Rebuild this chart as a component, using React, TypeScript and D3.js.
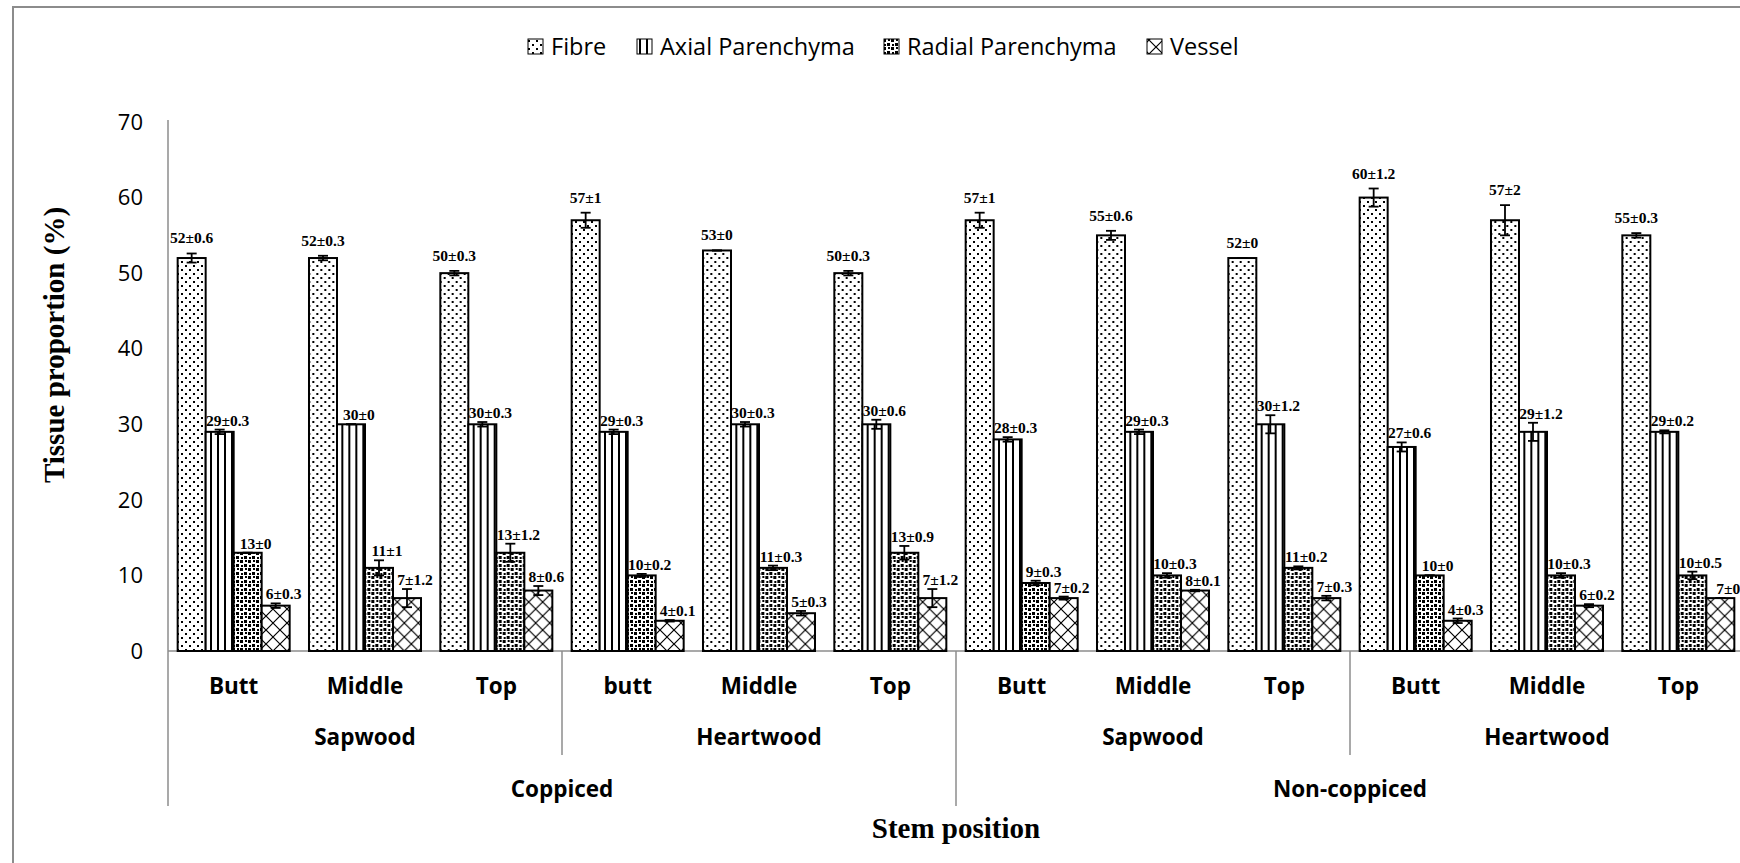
import { useMemo } from 'react'
import * as d3 from 'd3'

// tissue types (legend order)
const series = ['Fibre', 'Axial Parenchyma', 'Radial Parenchyma', 'Vessel']

// bottom axis, three levels
const stemPos = ['Butt', 'Middle', 'Top', 'butt', 'Middle', 'Top', 'Butt', 'Middle', 'Top', 'Butt', 'Middle', 'Top']
const woodTypes = ['Sapwood', 'Heartwood', 'Sapwood', 'Heartwood']
const treatments = ['Coppiced', 'Non-coppiced']

// mean ± error, per stem position
const fibre = [52, 52, 50, 57, 53, 50, 57, 55, 52, 60, 57, 55]
const fibreErr = [0.6, 0.3, 0.3, 1, 0, 0.3, 1, 0.6, 0, 1.2, 2, 0.3]
const axial = [29, 30, 30, 29, 30, 30, 28, 29, 30, 27, 29, 29]
const axialErr = [0.3, 0, 0.3, 0.3, 0.3, 0.6, 0.3, 0.3, 1.2, 0.6, 1.2, 0.2]
const radial = [13, 11, 13, 10, 11, 13, 9, 10, 11, 10, 10, 10]
const radialErr = [0, 1, 1.2, 0.2, 0.3, 0.9, 0.3, 0.3, 0.2, 0, 0.3, 0.5]
const vessel = [6, 7, 8, 4, 5, 7, 7, 8, 7, 4, 6, 7]
const vesselErr = [0.3, 1.2, 0.6, 0.1, 0.3, 1.2, 0.2, 0.1, 0.3, 0.3, 0.2, 0]

const yTicks = [0, 10, 20, 30, 40, 50, 60, 70]

const W = 1740
const H = 863
const SANS = "'Open Sans', 'Noto Sans', sans-serif"
const SERIF = "'Times New Roman', 'Liberation Serif', serif"
const GRID = '#8c8c8c'

const patternIds = ['pFibre', 'pAxial', 'pRadial', 'pVessel']
// legend text start, per item
const legendX = [551, 660, 907, 1170]

function Patterns() {
  return (
    <defs>
      <pattern id="pFibre" width={8} height={8} patternUnits="userSpaceOnUse">
        <rect width={8} height={8} fill="#fff" />
        <rect x={1} y={1} width={2} height={2} fill="#000" />
        <rect x={5} y={5} width={2} height={2} fill="#000" />
      </pattern>
      <pattern id="pAxial" width={7} height={8} patternUnits="userSpaceOnUse">
        <rect width={7} height={8} fill="#fff" />
        <rect x={0} y={0} width={2} height={8} fill="#000" />
      </pattern>
      <pattern id="pRadial" width={8} height={8} patternUnits="userSpaceOnUse">
        <rect width={8} height={8} fill="#fff" />
        <rect x={0} y={0} width={3} height={3} fill="#000" />
        <rect x={4} y={4} width={3} height={3} fill="#000" />
        <rect x={5} y={0} width={2} height={2} fill="#000" />
        <rect x={1} y={5} width={2} height={2} fill="#000" />
      </pattern>
      <pattern id="pVessel" width={14} height={14} patternUnits="userSpaceOnUse">
        <rect width={14} height={14} fill="#fff" />
        <path d="M0,0 L14,14 M14,0 L0,14" stroke="#000" strokeWidth={1.2} />
      </pattern>
    </defs>
  )
}

export default function App() {
  const values = [fibre, axial, radial, vessel]
  const errors = [fibreErr, axialErr, radialErr, vesselErr]

  const x0 = useMemo(
    () => d3.scaleBand<number>().domain(d3.range(stemPos.length)).range([168, 1744]).paddingInner(0).paddingOuter(0),
    []
  )
  const x1 = useMemo(
    () => d3.scaleBand<number>().domain(d3.range(series.length)).range([0, x0.bandwidth()]).paddingInner(0).paddingOuter(0.345),
    [x0]
  )
  const y = useMemo(() => d3.scaleLinear().domain([0, 70]).range([651, 122]), [])

  const bw = x0.bandwidth()
  const baseY = y(0)
  const woodSpan = 3
  const treatSpan = 6

  return (
    <svg width={W} height={H} style={{ position: 'absolute', left: 0, top: 0, background: '#fff' }}>
      <Patterns />
      <rect x={0} y={0} width={W} height={H} fill="#fff" />
      {/* outer chart border */}
      <path d={`M13,${H + 5} L13,7 L${W + 5},7`} fill="none" stroke={GRID} strokeWidth={2} />

      {/* legend */}
      <g fontFamily={SANS} fontSize={23.5} fill="#000">
        {series.map((s, i) => (
          <g key={s} transform={`translate(${legendX[i]},47)`}>
            <rect x={-23} y={-8} width={15} height={15} fill={`url(#${patternIds[i]})`} stroke="#000" strokeWidth={1} />
            <text x={0} dy="0.35em">{s}</text>
          </g>
        ))}
      </g>

      {/* y axis */}
      <line x1={168} x2={168} y1={120} y2={806} stroke={GRID} strokeWidth={1.5} />
      <line x1={168} x2={W} y1={baseY} y2={baseY} stroke={GRID} strokeWidth={1.5} />
      <g fontFamily={SANS} fontSize={22} fill="#000" textAnchor="end">
        {yTicks.map((t) => (
          <text key={t} x={143} y={y(t)} dy="0.35em">
            {t}
          </text>
        ))}
      </g>
      <text
        transform={`translate(64,345) rotate(-90)`}
        textAnchor="middle"
        fontFamily={SERIF}
        fontWeight="bold"
        fontSize={29}
      >
        Tissue proportion (%)
      </text>

      {/* bars */}
      {stemPos.map((_, gi) => (
        <g key={gi} transform={`translate(${x0(gi)},0)`}>
          {series.map((s, si) => {
            const v = values[si][gi]
            const e = errors[si][gi]
            const bx = x1(si) as number
            const cx = bx + x1.bandwidth() / 2
            const isFibre = si === 0
            return (
              <g key={s}>
                <rect
                  x={bx}
                  y={y(v)}
                  width={x1.bandwidth()}
                  height={baseY - y(v)}
                  fill={`url(#${patternIds[si]})`}
                  stroke="#000"
                  strokeWidth={2}
                />
                <g stroke="#000" strokeWidth={1.8}>
                  <line x1={cx} x2={cx} y1={y(v - e)} y2={y(v + e)} />
                  <line x1={cx - 5} x2={cx + 5} y1={y(v + e)} y2={y(v + e)} />
                  <line x1={cx - 5} x2={cx + 5} y1={y(v - e)} y2={y(v - e)} />
                </g>
                <text
                  x={cx + (isFibre ? 0 : 8)}
                  y={y(v + e) - (isFibre ? 10 : 4)}
                  textAnchor="middle"
                  fontFamily={SERIF}
                  fontWeight="bold"
                  fontSize={15.5}
                >
                  {`${v}±${e}`}
                </text>
              </g>
            )
          })}
        </g>
      ))}

      {/* multi-level category axis */}
      <g fontFamily={SANS} fontWeight="bold" fontSize={22.5} textAnchor="middle">
        {stemPos.map((p, gi) => (
          <text key={gi} x={(x0(gi) as number) + bw / 2} y={686} dy="0.35em">
            {p}
          </text>
        ))}
        {woodTypes.map((w, wi) => (
          <text key={wi} x={(x0(wi * woodSpan) as number) + (bw * woodSpan) / 2} y={737} dy="0.35em">
            {w}
          </text>
        ))}
        {treatments.map((t, ti) => (
          <text key={ti} x={(x0(ti * treatSpan) as number) + (bw * treatSpan) / 2} y={789} dy="0.35em">
            {t}
          </text>
        ))}
      </g>
      {woodTypes.map((_, wi) => {
        if (wi === 0) return null
        const xx = x0(wi * woodSpan) as number
        const isTreat = wi % 2 === 0
        return <line key={wi} x1={xx} x2={xx} y1={baseY} y2={isTreat ? 806 : 755} stroke={GRID} strokeWidth={1.5} />
      })}
      <line x1={1744} x2={1744} y1={baseY} y2={806} stroke={GRID} strokeWidth={1.5} />

      <text x={956} y={828} dy="0.35em" textAnchor="middle" fontFamily={SERIF} fontWeight="bold" fontSize={29}>
        Stem position
      </text>
    </svg>
  )
}
